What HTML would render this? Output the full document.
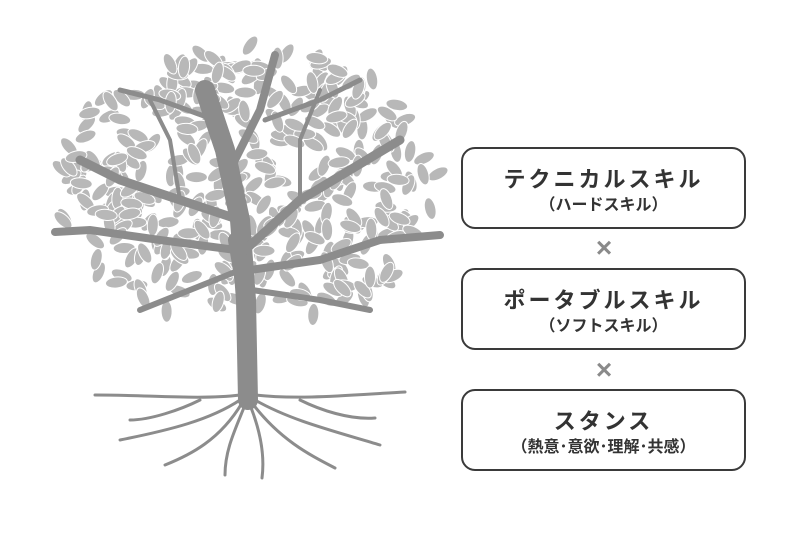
<!DOCTYPE html>
<html><head><meta charset="utf-8"><style>
body{margin:0;width:800px;height:533px;background:#fff;position:relative;overflow:hidden;font-family:"Liberation Sans","Noto Sans CJK JP",sans-serif;}
.box{position:absolute;left:461px;width:285px;height:82px;border:2px solid #3a3a3a;border-radius:14px;text-align:center;color:#333;box-sizing:border-box;}
.t{font-size:22px;font-weight:bold;letter-spacing:3px;margin-top:18px;line-height:26px;}
.s{font-size:16px;font-weight:bold;line-height:20px;margin-top:3px;}
.x{position:absolute;left:590px;width:28px;text-align:center;font-size:28px;color:#8a8a8a;font-weight:bold;line-height:28px;}
</style></head><body>
<svg id="tree" width="460" height="533" style="position:absolute;left:0;top:0">
<g id="leaves" fill="#b8b8b8" stroke="#fff" stroke-width="1"></g>
<g stroke="#8c8c8c" fill="none" stroke-linecap="round">
<path d="M248 400 L246 300 L240 220 L225 150 L205 90" stroke-width="20"/>
<path d="M246 300 L236 240" stroke-width="16"/>
<path d="M240 220 L180 200 L120 180 L80 160" stroke-width="9"/>
<path d="M236 250 L160 240 L90 230 L55 232" stroke-width="8"/>
<path d="M240 270 L190 290 L140 310" stroke-width="6"/>
<path d="M245 250 L300 200 L350 170 L400 140" stroke-width="9"/>
<path d="M250 270 L320 260 L380 240 L440 235" stroke-width="8"/>
<path d="M252 290 L320 300 L370 310" stroke-width="6"/>
<path d="M230 170 L260 110 L275 55" stroke-width="8"/>
<path d="M215 120 L160 100 L120 90" stroke-width="5"/>
<path d="M265 120 L320 100 L360 80" stroke-width="5"/>
<path d="M300 200 L300 140 L320 90" stroke-width="4"/>
<path d="M180 200 L170 140 L150 100" stroke-width="4"/>
</g>
<g stroke="#8c8c8c" fill="none" stroke-width="3" stroke-linecap="round">
<path d="M240 395 C200 400 150 395 95 395"/><path d="M255 395 C300 400 350 395 405 392"/>
<path d="M240 400 C210 420 170 430 120 440"/><path d="M255 400 C290 420 330 430 380 445"/>
<path d="M245 405 C235 430 225 450 225 475"/><path d="M250 405 C260 430 265 455 262 478"/>
<path d="M242 403 C220 440 190 455 165 465"/><path d="M252 403 C280 440 310 455 335 468"/>
<path d="M200 400 C180 410 150 420 130 420"/><path d="M300 400 C320 410 350 420 375 418"/>
</g>
</svg>
<script>
var g=document.getElementById('leaves'),s=1;function r(){s=(s*16807)%2147483647;return s/2147483647;}
var h='';for(var i=0;i<420;i++){var a=r()*6.283,rr=Math.sqrt(r());var x=248+Math.cos(a)*rr*195,y=185+Math.sin(a)*rr*140;if(y>305&&Math.abs(x-248)<60)continue;
h+='<ellipse cx="'+x.toFixed(1)+'" cy="'+y.toFixed(1)+'" rx="5.5" ry="11" transform="rotate('+(r()*180-90).toFixed(0)+' '+x.toFixed(1)+' '+y.toFixed(1)+')"/>';}
g.innerHTML=h;
</script>
<div class="box" style="top:147px"><div class="t">テクニカルスキル</div><div class="s">（ハードスキル）</div></div>
<div class="x" style="top:234px">×</div>
<div class="box" style="top:268px"><div class="t">ポータブルスキル</div><div class="s">（ソフトスキル）</div></div>
<div class="x" style="top:356px">×</div>
<div class="box" style="top:389px"><div class="t">スタンス</div><div class="s">（熱意･意欲･理解･共感）</div></div>
</body></html>
